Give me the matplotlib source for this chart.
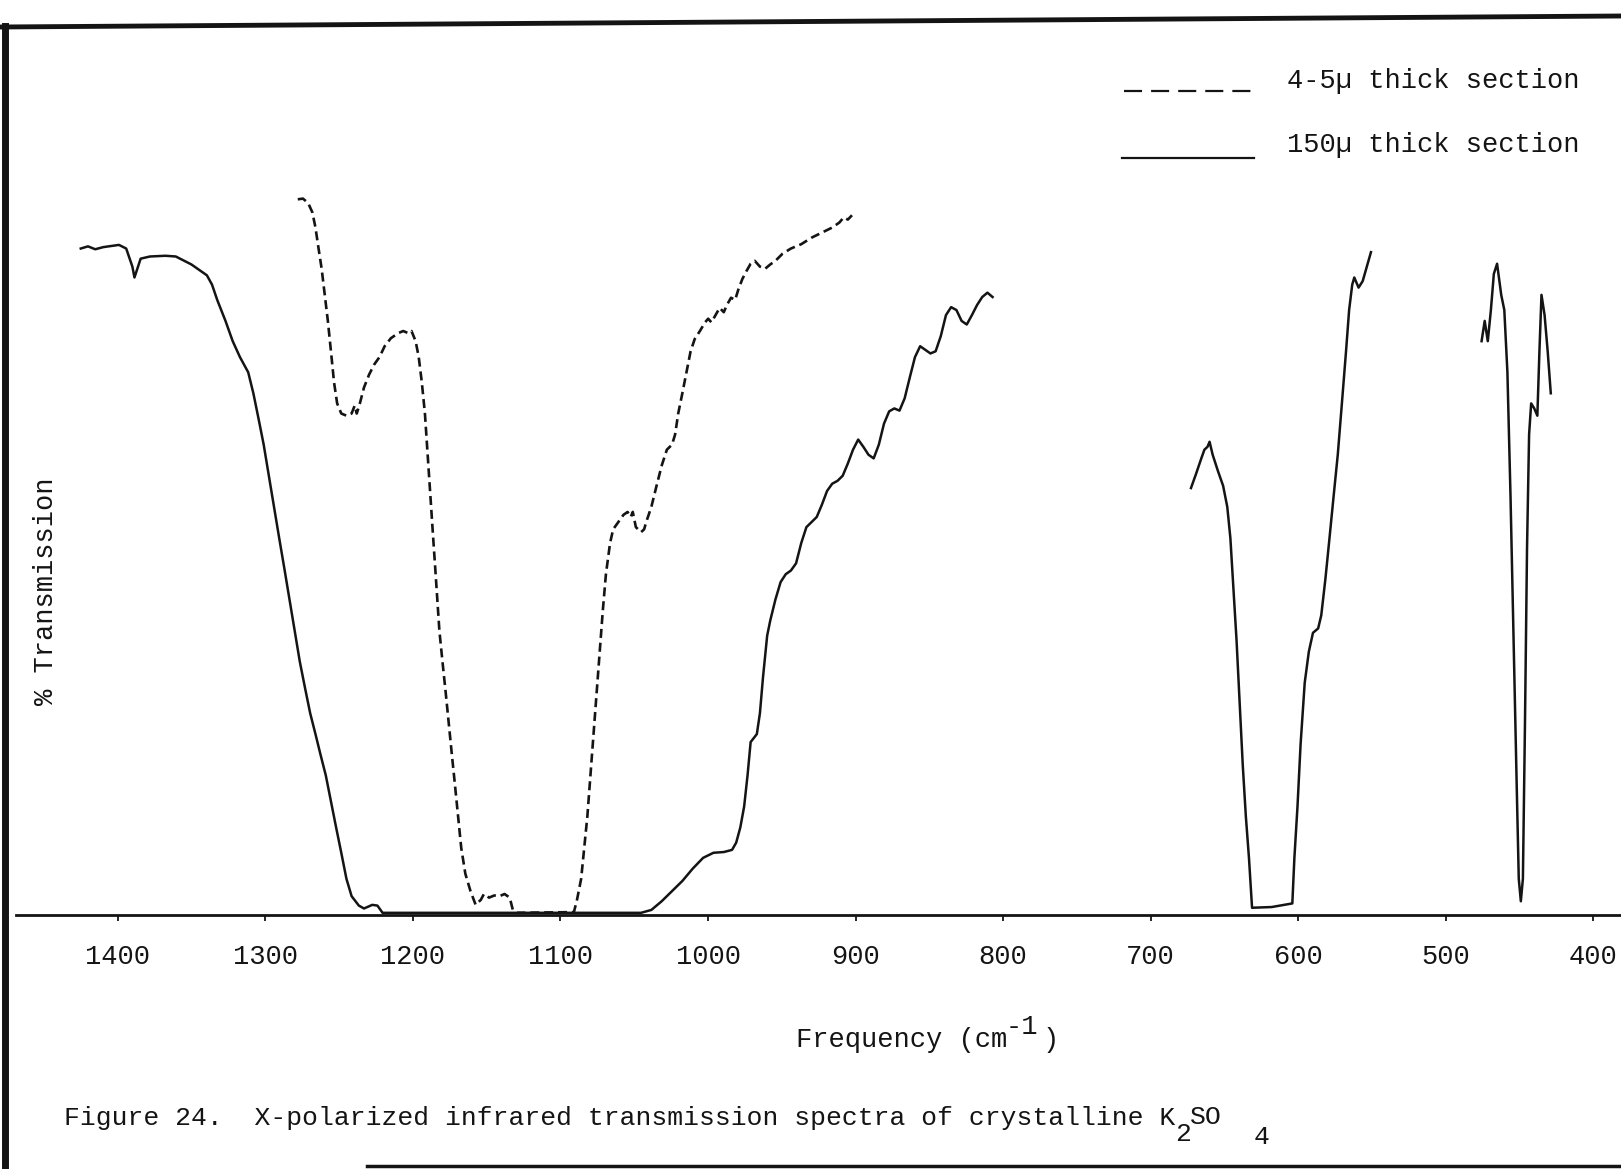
import matplotlib
matplotlib.use("Agg")
import matplotlib.pyplot as plt
from matplotlib.lines import Line2D
import numpy as np

plt.rcParams['font.family'] = ['Liberation Mono', 'DejaVu Sans Mono']
plt.rcParams['lines.scale_dashes'] = False

# ---------------- data (wavenumber cm^-1, % transmission) ----------------
# 150 micron thick section (solid) - three recorded segments
wn_150_a = [1425.2, 1420.3, 1415.4, 1409.8, 1399.3, 1394.4, 1390.2, 1388.8, 1384.6, 1378.3,
            1367.8, 1360.8, 1350.2, 1339.7, 1336.2, 1332.7, 1327.1, 1322.2, 1317.3, 1311.7,
            1308.2, 1304.7, 1301.2, 1297.7, 1294.2, 1290.7, 1287.2, 1283.7, 1280.2, 1276.7,
            1273.2, 1269.7, 1266.1, 1262.6, 1259.1, 1255.6, 1252.1, 1248.6, 1245.1, 1241.6,
            1236.7, 1233.2, 1227.6, 1224.1, 1220.6, 1164.5, 1094.4, 1045.4, 1038.4, 1031.4,
            1024.4, 1017.4, 1010.4, 1003.3, 996.3, 989.3, 983.7, 980.9, 978.1, 975.5,
            973.2, 971.1, 966.9, 964.8, 962.7, 959.9, 957.8, 954.3, 950.8, 947.3,
            943.8, 940.3, 936.8, 933.3, 926.3, 922.8, 919.3, 915.8, 912.2, 908.7,
            905.2, 901.7, 898.2, 894.7, 891.2, 887.7, 884.2, 880.7, 877.2, 873.7,
            870.2, 866.7, 863.2, 859.7, 856.2, 852.7, 849.2, 845.7, 842.2, 838.7,
            835.2, 831.6, 828.1, 824.6, 821.1, 817.6, 814.1, 810.6, 807.1]
tr_150_a = [92.1, 92.4, 92.0, 92.3, 92.6, 92.1, 89.6, 88.1, 90.7, 91.0,
            91.1, 91.0, 89.9, 88.4, 87.1, 85.0, 82.1, 79.3, 77.1, 75.0,
            72.1, 68.6, 65.0, 60.7, 56.4, 52.1, 47.9, 43.6, 39.3, 35.0,
            31.4, 27.9, 25.0, 22.1, 19.3, 15.7, 12.1, 8.6, 5.0, 2.6,
            1.3, 0.9, 1.4, 1.3, 0.3, 0.3, 0.3, 0.3, 0.7, 1.9,
            3.3, 4.7, 6.4, 7.9, 8.6, 8.7, 9.0, 10.0, 12.1, 15.0,
            19.3, 23.9, 25.0, 27.9, 32.9, 38.6, 40.7, 43.6, 46.0, 47.1,
            47.6, 48.6, 51.4, 53.6, 55.0, 56.7, 58.6, 59.6, 60.0, 60.7,
            62.4, 64.3, 65.7, 64.7, 63.6, 63.1, 65.0, 67.9, 69.6, 70.0,
            69.7, 71.4, 74.3, 77.1, 78.6, 78.1, 77.6, 77.9, 80.0, 82.9,
            84.0, 83.6, 82.1, 81.6, 82.9, 84.3, 85.4, 86.0, 85.4]

wn_150_b = [672.6, 669.1, 665.6, 663.5, 661.4, 660.0, 657.9, 654.4, 650.8, 648.0,
            645.9, 643.8, 641.7, 639.6, 637.5, 635.4, 633.3, 631.2, 617.9, 603.9,
            602.5, 600.4, 598.3, 595.5, 592.7, 589.9, 586.4, 584.3, 581.5, 578.7,
            575.9, 573.1, 570.3, 567.5, 565.4, 563.3, 561.9, 559.0, 556.2, 553.4, 550.6]
tr_150_b = [59.0, 61.0, 63.1, 64.3, 64.7, 65.4, 63.6, 61.4, 59.3, 56.4,
            52.1, 45.0, 37.9, 29.3, 20.7, 13.6, 7.9, 1.0, 1.1, 1.6,
            7.9, 15.0, 23.6, 32.1, 36.4, 39.0, 39.6, 41.4, 46.4, 52.1,
            57.9, 63.6, 70.7, 77.9, 83.6, 87.1, 88.1, 86.7, 87.6, 89.6, 91.6]

wn_150_c = [475.6, 473.5, 471.4, 469.3, 467.3, 465.1, 462.3, 460.2, 458.1, 456.0,
            453.9, 451.8, 450.4, 449.0, 447.6, 446.2, 444.8, 443.4, 442.0, 439.9,
            437.8, 436.4, 435.0, 432.9, 430.8, 428.7]
tr_150_c = [79.3, 82.1, 79.3, 83.6, 88.6, 90.0, 85.7, 83.6, 75.0, 57.9,
            37.9, 17.9, 5.0, 1.9, 5.0, 26.4, 50.7, 66.4, 70.7, 70.0,
            69.0, 77.9, 85.7, 82.9, 77.9, 72.1]

# 4-5 micron thick section (dashed)
wn_45 = [1278.1, 1274.6, 1271.1, 1268.2, 1266.1, 1264.0, 1261.9, 1259.8, 1257.7, 1255.6,
         1253.5, 1251.4, 1248.6, 1245.1, 1241.6, 1239.5, 1238.1, 1236.0, 1233.2, 1229.7,
         1226.2, 1222.7, 1219.2, 1215.0, 1210.1, 1206.6, 1203.1, 1201.0, 1198.2, 1196.1,
         1194.0, 1191.9, 1190.5, 1189.1, 1187.7, 1186.3, 1184.9, 1183.5, 1182.1, 1180.0,
         1177.8, 1175.7, 1173.6, 1171.5, 1169.4, 1167.3, 1164.5, 1161.0, 1157.5, 1154.0,
         1151.9, 1148.4, 1144.9, 1141.4, 1137.9, 1134.4, 1132.3, 1129.5, 1090.9, 1088.8,
         1086.0, 1083.9, 1081.8, 1079.7, 1077.6, 1075.5, 1073.4, 1071.3, 1069.2, 1066.4,
         1064.3, 1060.8, 1057.3, 1054.5, 1052.4, 1051.0, 1048.9, 1045.4, 1043.3, 1041.9,
         1038.4, 1034.9, 1031.4, 1027.9, 1024.4, 1022.3, 1020.2, 1017.4, 1014.6, 1011.8,
         1009.0, 1005.5, 1002.0, 999.9, 997.7, 994.9, 992.1, 989.3, 987.2, 984.4,
         981.6, 979.5, 976.7, 973.9, 971.1, 968.3, 964.8, 961.3, 957.8, 954.3,
         949.4, 943.8, 936.8, 929.8, 922.8, 915.8, 910.9, 908.0, 905.2, 902.4]
tr_45 = [98.9, 99.0, 98.4, 97.1, 95.0, 92.1, 89.3, 85.7, 82.1, 77.9,
         73.6, 70.7, 69.3, 69.0, 69.3, 70.4, 69.3, 70.7, 72.9, 74.7,
         76.1, 77.1, 78.6, 79.7, 80.4, 80.7, 80.4, 80.7, 79.3, 77.1,
         73.6, 69.3, 65.0, 60.7, 56.4, 52.1, 47.9, 43.6, 39.3, 35.0,
         30.7, 26.4, 22.1, 17.9, 13.6, 9.3, 5.7, 3.3, 1.4, 2.1,
         2.9, 2.4, 2.7, 2.6, 2.9, 2.4, 0.7, 0.3, 0.4, 2.1,
         5.0, 9.3, 13.6, 19.3, 25.0, 30.7, 36.4, 42.1, 47.1, 51.4,
         53.3, 54.3, 55.3, 55.7, 55.0, 55.7, 53.6, 52.9, 53.3, 54.3,
         56.4, 59.3, 62.1, 64.3, 65.0, 66.4, 69.3, 72.1, 75.0, 77.9,
         79.6, 80.7, 81.9, 82.4, 81.9, 82.9, 83.9, 83.3, 84.3, 85.3,
         85.0, 86.4, 87.9, 89.0, 90.0, 90.4, 89.6, 89.3, 89.9, 90.4,
         91.4, 92.1, 92.7, 93.6, 94.3, 95.0, 95.7, 96.4, 96.1, 96.7]

tick_values = [1400, 1300, 1200, 1100, 1000, 900, 800, 700, 600, 500, 400]
tick_labels = [str(v) for v in tick_values]
legend_labels = ["4-5\u00b5 thick section", "150\u00b5 thick section"]

# ---------------- figure ----------------
W, H = 1621, 1169
fig = plt.figure(figsize=(W / 100, H / 100), dpi=100)
fig.patch.set_facecolor('white')

ax = fig.add_axes([16 / W, 254 / H, 1605 / W, 796 / H])
ax.set_facecolor('none')
ax.set_xlim(1469.1, 381.1)
ax.set_ylim(0, 110)

ink = '#141414'
lw = 1.8
for wn, tr in [(wn_150_a, tr_150_a), (wn_150_b, tr_150_b), (wn_150_c, tr_150_c)]:
    ax.plot(wn, tr, color=ink, lw=lw, solid_joinstyle='round')
ax.plot(wn_45, tr_45, color=ink, lw=1.9, linestyle=(0, (6.5, 3.5)))

for side in ['top', 'right', 'left']:
    ax.spines[side].set_visible(False)
ax.spines['bottom'].set_linewidth(2.0)
ax.spines['bottom'].set_color(ink)
ax.set_yticks([])
ax.set_xticks(tick_values)
ax.set_xticklabels(tick_labels, fontsize=19.5, color=ink)
ax.tick_params(axis='x', direction='out', length=4, width=1.3, pad=17, colors=ink)

# axis labels
fig.text(46 / W, 1 - 591 / H, "% Transmission", rotation=90, fontsize=19.5,
         ha='center', va='center', color=ink)
fig.text(796 / W, 1 - 1040 / H, "Frequency (cm", fontsize=19.5, ha='left', va='center', color=ink)
fig.text(1006 / W, 1 - 1027 / H, "-1", fontsize=19.5, ha='left', va='center', color=ink)
fig.text(1043 / W, 1 - 1040 / H, ")", fontsize=19.5, ha='left', va='center', color=ink)

# caption
fig.text(64 / W, 1 - 1118 / H,
         "Figure 24.  X-polarized infrared transmission spectra of crystalline K",
         fontsize=19, ha='left', va='center', color=ink)
fig.text(1175 / W, 1 - 1134 / H, "2", fontsize=19, ha='left', va='center', color=ink)
fig.text(1190 / W, 1 - 1117 / H, "SO", fontsize=19, ha='left', va='center', color=ink)
fig.text(1254 / W, 1 - 1137 / H, "4", fontsize=19, ha='left', va='center', color=ink)

# legend (drawn as in the original typed key)
fig.add_artist(Line2D([1124 / W, 1253 / W], [1 - 91 / H, 1 - 91 / H], transform=fig.transFigure,
                      color=ink, lw=1.6, linestyle=(0, (13, 6.5))))
fig.add_artist(Line2D([1122 / W, 1254 / W], [1 - 158 / H, 1 - 158 / H], transform=fig.transFigure,
                      color=ink, lw=1.6))
fig.text(1287 / W, 1 - 81 / H, legend_labels[0], fontsize=19.5, ha='left', va='center', color=ink)
fig.text(1287 / W, 1 - 145 / H, legend_labels[1], fontsize=19.5, ha='left', va='center', color=ink)

# page border lines of the scanned page
fig.add_artist(Line2D([5 / W, 5 / W], [1 - 26 / H, 0], transform=fig.transFigure, color=ink, lw=5))
fig.add_artist(Line2D([0, 1], [1 - 27 / H, 1 - 16 / H], transform=fig.transFigure, color=ink, lw=3.5))
fig.add_artist(Line2D([367 / W, 1], [1 - 1166 / H, 1 - 1166 / H], transform=fig.transFigure, color=ink, lw=2.5))

fig.savefig("out.png", dpi=100, facecolor='white')
